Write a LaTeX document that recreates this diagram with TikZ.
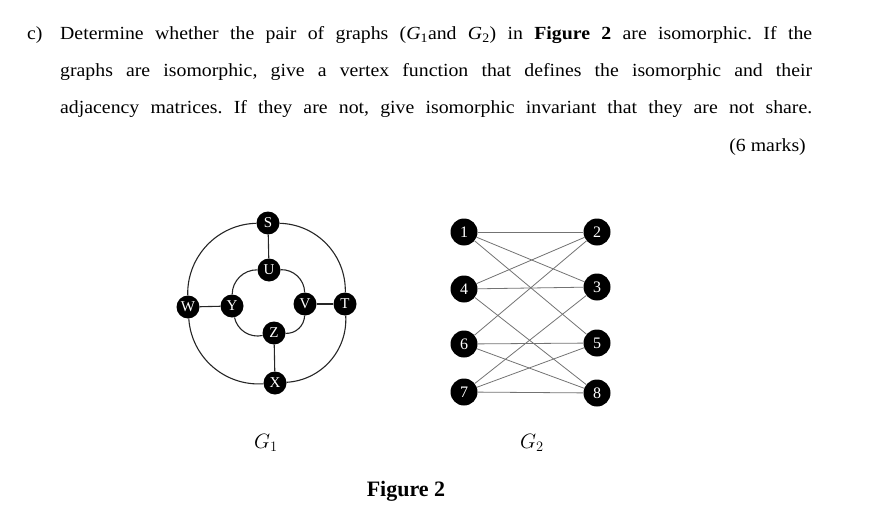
\documentclass[tikz,border=0pt]{standalone}
\usepackage{fontspec}
\setmainfont{Liberation Serif}
\newcommand{\qline}[1]{\scalebox{1.07}[1]{\makebox[702.8pt][s]{#1}}}
\begin{document}
\begin{tikzpicture}[x=1pt,y=-1pt,
  txt/.style={inner sep=0pt,font=\fontsize{18.5}{20}\selectfont\frenchspacing},
  gonenode/.style={circle,fill=black,text=white,minimum size=23pt,inner sep=0pt,font=\fontsize{15}{15}\selectfont},
  gtwonode/.style={circle,fill=black,text=white,minimum size=27pt,inner sep=0pt,font=\fontsize{16}{16}\selectfont},
  gone/.style={draw=black!85,line width=1.1pt},
  gtwo/.style={draw=black!55,line width=0.8pt}]
\useasboundingbox (0,0) rectangle (877,513);
% question text
\node[txt,anchor=base west] (lab) at (27,40) {\scalebox{1.07}[1]{c)}};
\node[txt,anchor=base west] (l1) at (60,40) {\qline{Determine whether the pair of graphs (\textit{G}\textsubscript{1}and \textit{G}\textsubscript{2}) in \textbf{Figure 2} are isomorphic. If the}};
\node[txt,anchor=base west] (l2) at (60,77) {\qline{graphs are isomorphic, give a vertex function that defines the isomorphic and their}};
\node[txt,anchor=base west] (l3) at (60,114) {\qline{adjacency matrices. If they are not, give isomorphic invariant that they are not share.}};
\node[txt,anchor=base east] (marks) at (806,152) {\scalebox{1.07}[1]{(6 marks)}};
% G1
\node[gonenode] (S) at (268,223) {S};
\node[gonenode] (T) at (345,304) {T};
\node[gonenode] (X) at (275,383) {X};
\node[gonenode] (W) at (188,307) {W};
\node[gonenode] (U) at (269,270) {U};
\node[gonenode] (V) at (305,304) {V};
\node[gonenode] (Z) at (274,333) {Z};
\node[gonenode] (Y) at (232,306) {Y};
\draw[gone] (S) to[bend left=45] (T);
\draw[gone] (T) to[bend left=45] (X);
\draw[gone] (X) to[bend left=45] (W);
\draw[gone] (W) to[bend left=45] (S);
\draw[gone] (U) to[bend left=45] (V);
\draw[gone] (V) to[bend left=45] (Z);
\draw[gone] (Z) to[bend left=45] (Y);
\draw[gone] (Y) to[bend left=45] (U);
\draw[gone] (S) -- (U);
\draw[gone] (T) -- (V);
\draw[gone] (X) -- (Z);
\draw[gone] (W) -- (Y);
% G2
\node[gtwonode] (n1) at (464,232) {1};
\node[gtwonode] (n4) at (464,289) {4};
\node[gtwonode] (n6) at (464,344) {6};
\node[gtwonode] (n7) at (464,392) {7};
\node[gtwonode] (n2) at (597,232) {2};
\node[gtwonode] (n3) at (597,287) {3};
\node[gtwonode] (n5) at (597,343) {5};
\node[gtwonode] (n8) at (597,393) {8};
\foreach \a/\b in {n1/n2,n1/n3,n1/n5,n4/n2,n4/n3,n4/n8,n6/n2,n6/n5,n6/n8,n7/n3,n7/n5,n7/n8}
  \draw[gtwo] (\a) -- (\b);
% labels
\node[inner sep=0pt,anchor=base,font=\fontsize{21}{21}\selectfont] (g1) at (266,448) {$G_1$};
\node[inner sep=0pt,anchor=base,font=\fontsize{21}{21}\selectfont] (g2) at (532,448) {$G_2$};
\node[inner sep=0pt,anchor=base,font=\fontsize{22}{22}\selectfont\bfseries] (fig) at (406,496) {Figure 2};
\end{tikzpicture}
\end{document}
